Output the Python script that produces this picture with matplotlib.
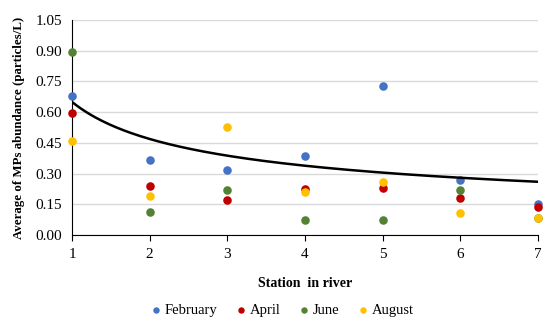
import numpy as np
import matplotlib
matplotlib.use("Agg")
import matplotlib.pyplot as plt

plt.rcParams['font.family'] = ['Liberation Serif', 'DejaVu Serif']

stations = [1, 2, 3, 4, 5, 6, 7]
february = [0.68, 0.365, 0.316, 0.384, 0.729, 0.267, 0.150]
april = [0.594, 0.239, 0.172, 0.225, 0.230, 0.181, 0.135]
june = [0.892, 0.114, 0.221, 0.075, 0.075, 0.221, 0.085]
august = [0.459, 0.192, 0.527, 0.210, 0.260, 0.106, 0.085]
# power trend line y = a * x^b
trend_a = 0.65
trend_b = -0.471

series = [("February", february, "#4472C4"),
          ("April", april, "#C00000"),
          ("June", june, "#548235"),
          ("August", august, "#FFC000")]

fig = plt.figure(figsize=(5.5, 3.26), dpi=100)
ax = fig.add_axes([72/550, 1-235/326, (538-72)/550, (235-20)/326])

for name, vals, col in series:
    ax.scatter(stations, vals, s=38, color=col, label=name, zorder=3,
               linewidths=0, clip_on=False)

xs = np.linspace(1, 7, 200)
ax.plot(xs, trend_a * xs ** trend_b, color='black', lw=1.8, zorder=4)

ax.set_xlim(1, 7)
ax.set_ylim(0, 1.05)
ax.set_yticks(np.arange(0, 1.051, 0.15))
ax.set_yticklabels([f"{v:.2f}" for v in np.arange(0, 1.051, 0.15)])
ax.set_xticks(stations)
ax.grid(axis='y', color='#D9D9D9', lw=1)
ax.set_axisbelow(True)
for s in ['top', 'right']:
    ax.spines[s].set_visible(False)
ax.spines['left'].set_color('black')
ax.spines['bottom'].set_color('black')
ax.tick_params(axis='y', length=0, labelsize=11, pad=7)
ax.tick_params(axis='x', direction='out', length=4, labelsize=11, pad=5)

ax.set_xlabel("Station  in river", fontsize=10, fontweight='bold', labelpad=12)
ax.set_ylabel("Average of MPs abundance (particles/L)", fontsize=9.3, fontweight='bold', labelpad=8)

fig.legend(loc='center', bbox_to_anchor=(0.514, 1-310/326), ncol=4, frameon=False,
           fontsize=10.5, handlelength=0.6, handletextpad=0.3, columnspacing=1.3,
           markerscale=0.75)

fig.savefig("out.png", dpi=100)
